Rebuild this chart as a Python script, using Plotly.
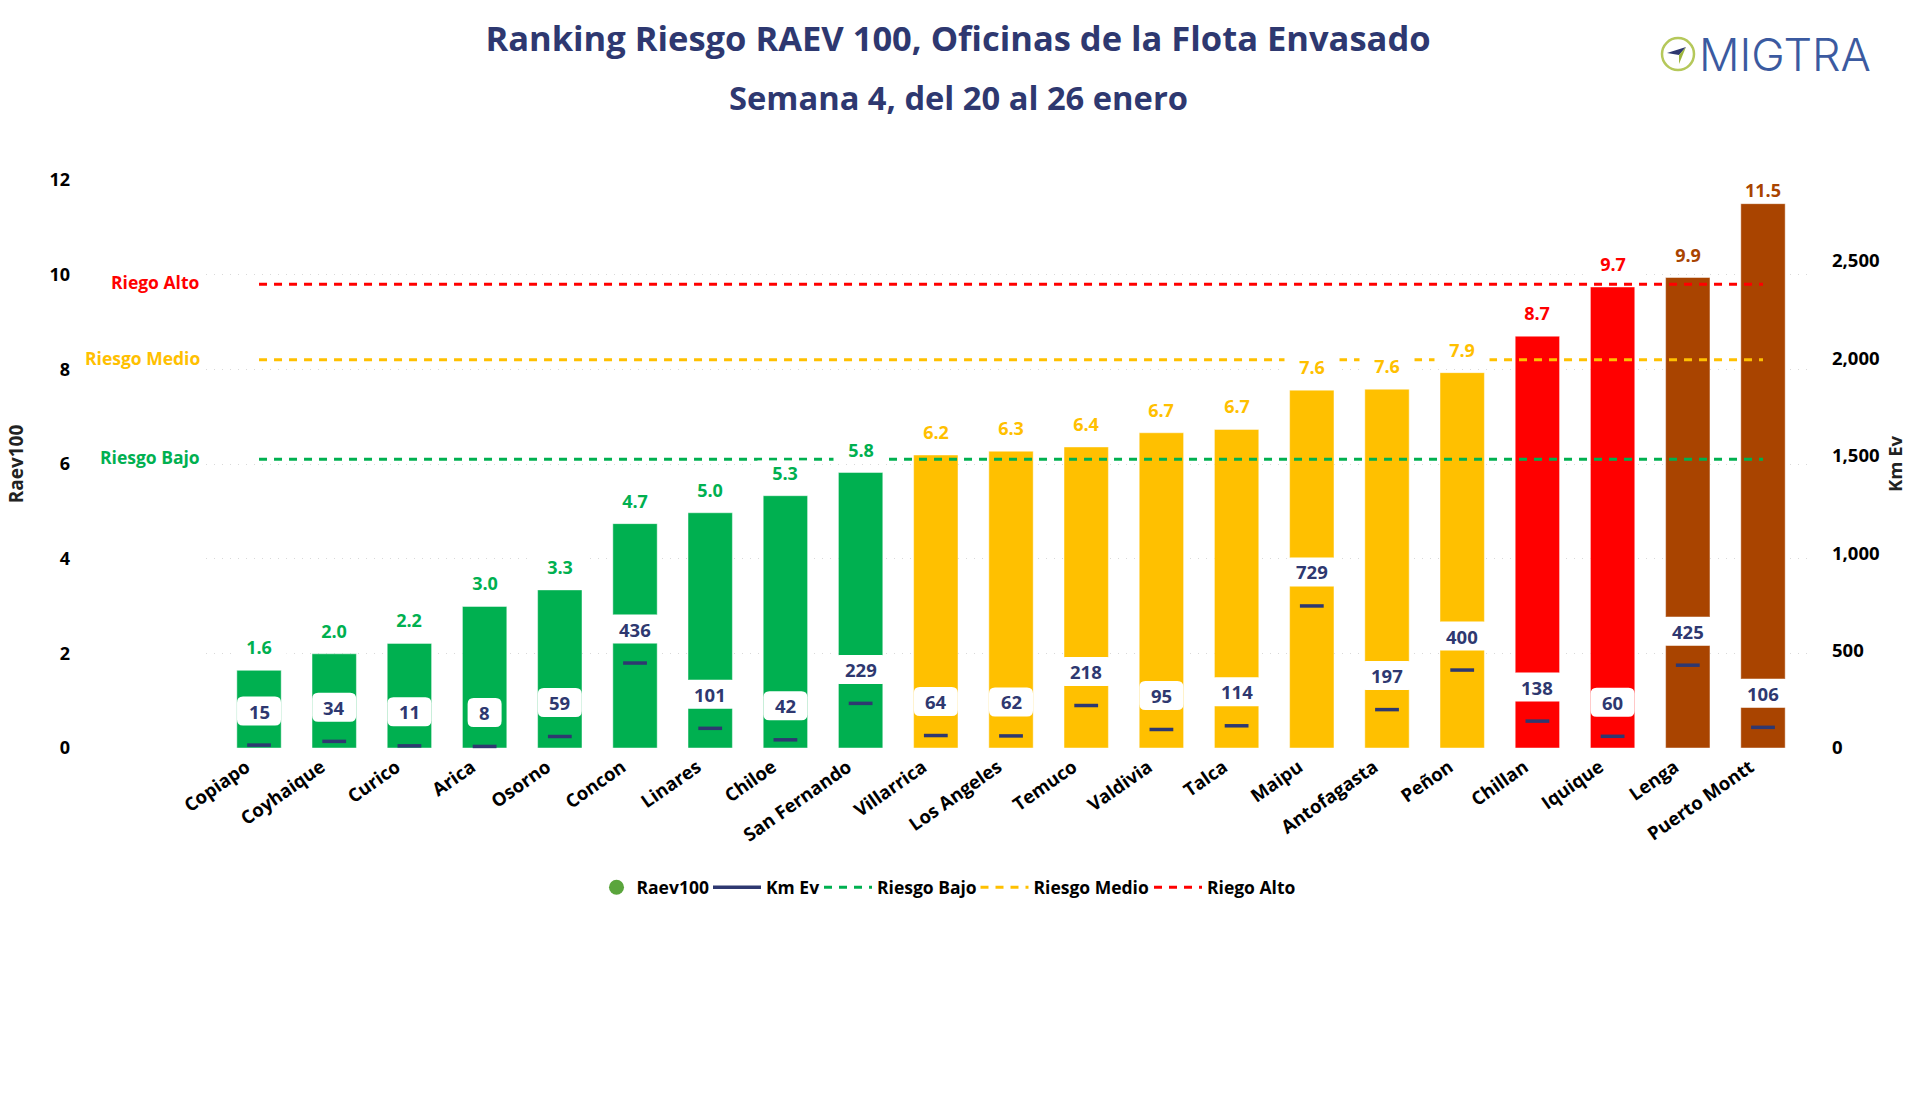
import plotly.graph_objects as go

FONT = "Open Sans"
NAVY = "#2E3870"
GREEN = "#00B050"
YELLOW = "#FFC000"
RED = "#FF0000"
BROWN = "#A94400"

oficinas = ["Copiapo", "Coyhaique", "Curico", "Arica", "Osorno", "Concon", "Linares", "Chiloe",
            "San Fernando", "Villarrica", "Los Angeles", "Temuco", "Valdivia", "Talca", "Maipu",
            "Antofagasta", "Peñon", "Chillan", "Iquique", "Lenga", "Puerto Montt"]
raev100 = [1.64, 1.99, 2.21, 2.99, 3.34, 4.74, 4.97, 5.33, 5.82, 6.19, 6.27, 6.36, 6.66, 6.73,
           7.56, 7.58, 7.93, 8.70, 9.74, 9.94, 11.5]
km_ev = [15, 34, 11, 8, 59, 436, 101, 42, 229, 64, 62, 218, 95, 114, 729, 197, 400, 138, 60, 425, 106]
riesgo_bajo = 6.1
riesgo_medio = 8.2
riesgo_alto = 9.8

PLOT_L, PLOT_R, PLOT_T, PLOT_B = 206, 1813, 180, 748.5
W, H = 1920, 1096


def px_x(p):
    return (p - PLOT_L) / (PLOT_R - PLOT_L)


def px_y(p):
    return (PLOT_B - p) / (PLOT_B - PLOT_T)


def color_for(v):
    if v < riesgo_bajo:
        return GREEN
    if v < riesgo_medio:
        return YELLOW
    if v < riesgo_alto:
        return RED
    return BROWN


bar_colors = [color_for(v) for v in raev100]

fig = go.Figure()
fig.add_trace(go.Bar(x=oficinas, y=raev100, name="Raev100", width=0.59, showlegend=False,
                     marker=dict(color=bar_colors, line=dict(color="rgba(255,255,255,0.45)", width=1))))
fig.add_trace(go.Scatter(x=[None], y=[None], mode="markers", name="Raev100", legend="legend",
                         marker=dict(color="#5AA53C", size=15, symbol="circle")))
fig.add_trace(go.Scatter(x=[None], y=[None], mode="lines", name="Km Ev", legend="legend2",
                         line=dict(color=NAVY, width=3.5)))
for nombre, valor, col, leg in [("Riesgo Bajo", riesgo_bajo, GREEN, "legend3"),
                                ("Riesgo Medio", riesgo_medio, YELLOW, "legend4"),
                                ("Riego Alto", riesgo_alto, RED, "legend5")]:
    fig.add_trace(go.Scatter(x=oficinas, y=[valor] * len(oficinas), mode="lines", name=nombre, legend=leg,
                             line=dict(color=col, width=3, dash="8px,7px")))
fig.add_trace(go.Scatter(x=oficinas, y=km_ev, yaxis="y2", mode="markers", name="Km Ev", showlegend=False,
                         cliponaxis=False,
                         marker=dict(symbol="line-ew", size=17, line=dict(color=NAVY, width=3.5))))

annotations = []
shapes = []
KM_LIFT = 34


def rounded(w, h, r, dy):
    x, b, t = w / 2, dy - h / 2, dy + h / 2
    return (f"M {-x + r} {b} L {x - r} {b} Q {x} {b} {x} {b + r} L {x} {t - r} Q {x} {t} {x - r} {t} "
            f"L {-x + r} {t} Q {-x} {t} {-x} {t - r} L {-x} {b + r} Q {-x} {b} {-x + r} {b} Z")


for o, v, c in zip(oficinas, raev100, bar_colors):
    annotations.append(dict(x=o, y=v, xref="x", yref="y", text=f"<b>{v:.1f}</b>", showarrow=False,
                            yshift=23 if v < 11 else 14, width=54, height=24, bgcolor="white", borderpad=0,
                            font=dict(family=FONT, size=18, color=c)))

for o, k in zip(oficinas, km_ev):
    w = {1: 34, 2: 44, 3: 54}[len(str(k))]
    shapes.append(dict(type="path", xref="x", yref="y2", xsizemode="pixel", ysizemode="pixel",
                       xanchor=o, yanchor=k, path=rounded(w, 29, 6, KM_LIFT),
                       fillcolor="white", line=dict(width=0), layer="above"))
    annotations.append(dict(x=o, y=k, xref="x", yref="y2", text=f"<b>{k}</b>", showarrow=False, yshift=KM_LIFT,
                            font=dict(family=FONT, size=18.5, color=NAVY)))

for texto, valor, col in [("Riesgo Bajo", riesgo_bajo, GREEN), ("Riesgo Medio", riesgo_medio, YELLOW),
                          ("Riego Alto", riesgo_alto, RED)]:
    annotations.append(dict(x=px_x(201.5), y=valor, xref="paper", yref="y", xanchor="right", yshift=2,
                            text=f"<b>{texto}</b>", showarrow=False,
                            font=dict(family=FONT, size=17.5, color=col)))

annotations.append(dict(x=px_x(958), y=px_y(97), xref="paper", yref="paper", showarrow=False, yanchor="middle",
                        text="<b>Semana 4, del 20 al 26 enero</b>",
                        font=dict(family=FONT, size=32.7, color=NAVY)))

annotations.append(dict(x=px_x(1697), y=px_y(54), xref="paper", yref="paper", xanchor="left", yanchor="middle",
                        showarrow=False, text="MIGTRA",
                        font=dict(family="Inter", size=45, color="#3B5AA0", weight=300)))
shapes.append(dict(type="circle", xref="paper", yref="paper", x0=px_x(1662), x1=px_x(1694), y0=px_y(70),
                   y1=px_y(38), line=dict(color="#B5C85A", width=2.5), layer="above"))
shapes.append(dict(type="path", xref="paper", yref="paper", layer="above", fillcolor=NAVY, line=dict(width=0),
                   path=f"M {px_x(1667)} {px_y(53)} L {px_x(1686)} {px_y(47)} L {px_x(1679)} {px_y(55)} Z"))
shapes.append(dict(type="path", xref="paper", yref="paper", layer="above", fillcolor="#9DB53C", line=dict(width=0),
                   path=f"M {px_x(1686)} {px_y(47)} L {px_x(1679)} {px_y(55)} L {px_x(1679)} {px_y(64)} Z"))


def legend_at(px, itemwidth=48):
    return dict(orientation="h", x=px_x(px), xanchor="left", y=px_y(888), yanchor="middle", itemwidth=itemwidth,
                bgcolor="rgba(0,0,0,0)", font=dict(family=FONT, size=17.5, color="black", weight=700))


fig.update_layout(
    width=W, height=H, autosize=False,
    margin=dict(l=PLOT_L, r=W - PLOT_R, t=PLOT_T, b=H - PLOT_B, pad=0),
    paper_bgcolor="white", plot_bgcolor="white",
    font=dict(family=FONT, color="black"),
    title=dict(text="<b>Ranking Riesgo RAEV 100, Oficinas de la Flota Envasado</b>", x=958 / W, xanchor="center",
               y=1 - 39 / H, yanchor="middle", font=dict(family=FONT, size=34.5, color=NAVY)),
    xaxis=dict(type="category", categoryorder="array", categoryarray=oficinas, range=[-0.705, 20.665],
               tickangle=-35, showgrid=False, zeroline=False, showline=False, ticks="",
               ticklabelshift=-13, ticklabelstandoff=4,
               tickfont=dict(family=FONT, size=18.5, color="black", weight=700)),
    yaxis=dict(range=[0, 12], dtick=2, showgrid=True, griddash="1px,7px", gridcolor="#D9D9D9", gridwidth=1,
               zeroline=False, showline=False, ticks="", ticklabelstandoff=135,
               tickfont=dict(family=FONT, size=18, color="black", weight=700),
               title=dict(text="<b>Raev100</b>", font=dict(family=FONT, size=19, color="#222222"), standoff=20)),
    yaxis2=dict(overlaying="y", side="right", range=[0, 2915], tick0=0, dtick=500, tickformat=",d", showgrid=False,
                zeroline=False, showline=False, ticks="", ticklabelstandoff=18,
                tickfont=dict(family=FONT, size=18.5, color="black", weight=700),
                title=dict(text="<b>Km Ev</b>", font=dict(family=FONT, size=18.5, color="#222222"), standoff=10)),
    legend=legend_at(596.5, 30),
    legend2=legend_at(708),
    legend3=legend_at(819),
    legend4=legend_at(975.5),
    legend5=legend_at(1149),
    showlegend=True,
    annotations=annotations,
    shapes=shapes,
    bargap=0.41,
)

fig.write_html("out.html", config={"displayModeBar": False},
               post_script="document.body.style.margin='0';document.documentElement.style.overflow='hidden';")
